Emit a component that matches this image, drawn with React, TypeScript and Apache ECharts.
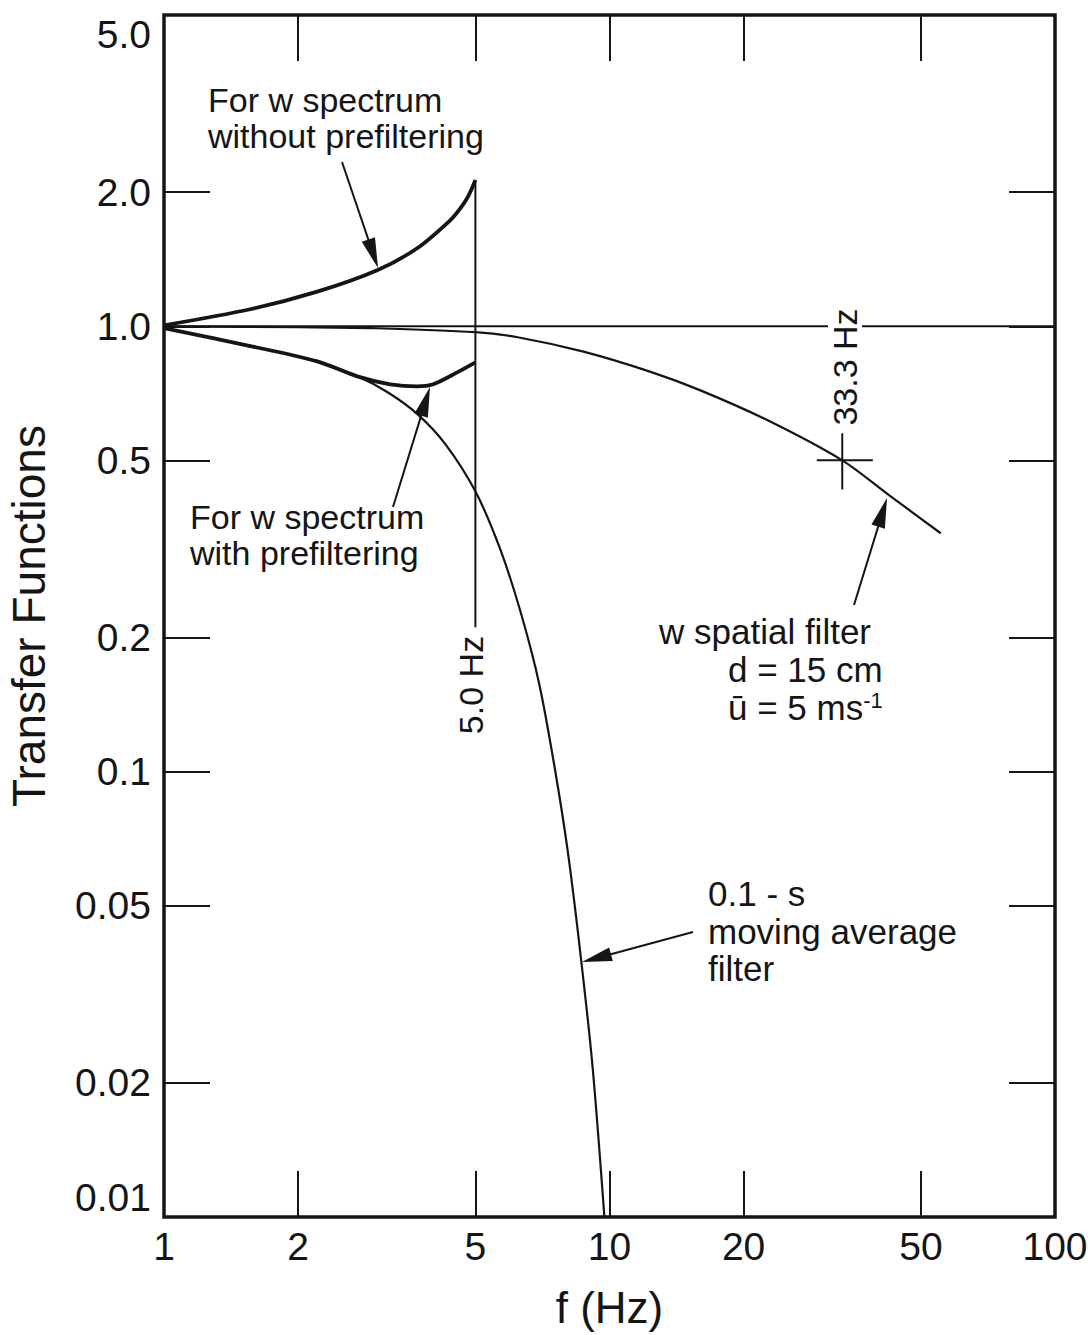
import React, { useEffect, useRef } from "react";
import * as echarts from "echarts";

// ---- axis ticks ----
const X_TICKS = [1, 2, 5, 10, 20, 50, 100];
const X_TICK_LABELS = ["1", "2", "5", "10", "20", "50", "100"];
const Y_TICKS = [0.01, 0.02, 0.05, 0.1, 0.2, 0.5, 1, 2, 5];
const Y_TICK_LABELS = ["0.01", "0.02", "0.05", "0.1", "0.2", "0.5", "1.0", "2.0", "5.0"];
const X_INNER_TICKS = [2, 5, 10, 20, 50];
const Y_INNER_TICKS = [0.02, 0.05, 0.1, 0.2, 0.5, 1, 2];

// ---- series ----
const UNITY_F = [1, 100];
const UNITY_T = [1, 1];

const SPATIAL_F = [1, 2, 3, 5, 6.22, 8.74, 12.37, 16.0, 22.65, 33.3, 42.1, 55.4];
const SPATIAL_T = [1.0, 0.995, 0.99, 0.97, 0.945, 0.877, 0.79, 0.718, 0.615, 0.5, 0.42, 0.343];

const MOVAVG_F = [1, 1.561, 2.208, 2.715, 3.17, 3.7, 4.28, 5, 5.69, 6.34, 6.96, 7.52, 8.05, 8.61, 9.16, 9.74];
const MOVAVG_T = [0.99, 0.904, 0.834, 0.772, 0.712, 0.636, 0.544, 0.426, 0.315, 0.2253, 0.1568, 0.1031, 0.0668, 0.0388, 0.0218, 0.01];

const WITHOUT_F = [1, 1.561, 2.208, 3.01, 3.7, 4.39, 4.63, 4.82, 5];
const WITHOUT_T = [1.005, 1.092, 1.196, 1.336, 1.497, 1.73, 1.842, 1.96, 2.13];

const WITH_F = [1, 1.561, 2.208, 2.715, 3.22, 3.7, 4.02, 4.55, 5];
const WITH_T = [0.99, 0.903, 0.834, 0.772, 0.741, 0.733, 0.741, 0.788, 0.83];

const CUTOFF_F = [5, 5];
const CUTOFF_T = [2.13, 0.211];

const CROSS_H_F = [29.2, 39];
const CROSS_H_T = [0.5, 0.5];
const CROSS_V_F = [33.3, 33.3];
const CROSS_V_T = [0.575, 0.43];

const INK = "#151515";
const FONT = "'Liberation Sans', Arial, Helvetica, sans-serif";

const pairs = (f: number[], t: number[]) => f.map((v, i) => [v, t[i]]);

const labelFor = (ticks: number[], labels: string[]) => (v: number) => {
  const i = ticks.findIndex((t) => Math.abs(Math.log10(t) - Math.log10(v)) < 1e-6);
  return i >= 0 ? labels[i] : "";
};

function arrow(x1: number, y1: number, x2: number, y2: number) {
  const dx = x2 - x1;
  const dy = y2 - y1;
  const len = Math.hypot(dx, dy);
  const ux = dx / len;
  const uy = dy / len;
  const hl = 30;
  const hw = 7;
  const bx = x2 - ux * hl;
  const by = y2 - uy * hl;
  return [
    {
      type: "line",
      z: 100,
      shape: { x1, y1, x2: bx + ux * 4, y2: by + uy * 4 },
      style: { stroke: INK, lineWidth: 2 },
    },
    {
      type: "polygon",
      z: 100,
      shape: {
        points: [
          [x2, y2],
          [bx - uy * hw, by + ux * hw],
          [bx + uy * hw, by - ux * hw],
        ],
      },
      style: { fill: INK },
    },
  ];
}

function txt(x: number, y: number, text: string, extra: any = {}) {
  return {
    type: "text",
    z: 100,
    x,
    y,
    rotation: extra.rotation || 0,
    style: {
      text,
      fontSize: 35,
      fontFamily: FONT,
      fill: INK,
      align: "left",
      verticalAlign: "middle",
      ...(extra.style || {}),
    },
  };
}

function lineSeries(name: string, f: number[], t: number[], width: number, smooth: any) {
  return {
    name,
    type: "line",
    data: pairs(f, t),
    symbol: "none",
    showSymbol: false,
    smooth,
    silent: true,
    clip: true,
    lineStyle: { color: INK, width },
    z: 3,
  };
}

export default function App() {
  const ref = useRef<HTMLDivElement>(null);

  useEffect(() => {
    if (!ref.current) return;
    const chart = echarts.init(ref.current, null, { renderer: "svg" });

    const common = {
      type: "log",
      logBase: 10,
      gridIndex: 0,
      axisLine: { show: false },
      splitLine: { show: false },
      minorTick: { show: false },
      minorSplitLine: { show: false },
    };
    const xBase = { ...common, min: 1, max: 100 };
    const yBase = { ...common, min: 0.01, max: 5 };
    const tick = (values: number[]) => ({
      show: true,
      inside: true,
      length: 46,
      lineStyle: { color: INK, width: 2 },
      customValues: values,
    });

    const small = { style: { fontSize: 34 } };

    const option: any = {
      animation: false,
      backgroundColor: "#ffffff",
      textStyle: { fontFamily: FONT, color: INK },
      grid: {
        left: 164,
        right: 33,
        top: 15,
        bottom: 118,
        show: true,
        borderColor: INK,
        borderWidth: 3.5,
        backgroundColor: "transparent",
        containLabel: false,
        outerBoundsMode: "none",
      },
      xAxis: [
        {
          ...xBase,
          position: "bottom",
          name: "f (Hz)",
          nameLocation: "middle",
          nameGap: 68,
          nameTextStyle: { fontSize: 44, fontFamily: FONT, color: INK },
          axisTick: tick(X_INNER_TICKS),
          axisLabel: {
            show: true,
            margin: 10,
            fontSize: 39,
            fontFamily: FONT,
            color: INK,
            customValues: X_TICKS,
            formatter: labelFor(X_TICKS, X_TICK_LABELS),
          },
        },
        {
          ...xBase,
          position: "top",
          axisTick: tick(X_INNER_TICKS),
          axisLabel: { show: false },
        },
      ],
      yAxis: [
        {
          ...yBase,
          position: "left",
          name: "Transfer Functions",
          nameLocation: "middle",
          nameGap: 112,
          nameTextStyle: { fontSize: 46, fontFamily: FONT, color: INK },
          axisTick: tick(Y_INNER_TICKS),
          axisLabel: {
            show: true,
            margin: 13,
            fontSize: 39,
            fontFamily: FONT,
            color: INK,
            customValues: Y_TICKS,
            formatter: labelFor(Y_TICKS, Y_TICK_LABELS),
            verticalAlignMinLabel: "bottom",
            verticalAlignMaxLabel: "top",
          },
        },
        {
          ...yBase,
          position: "right",
          axisTick: tick(Y_INNER_TICKS),
          axisLabel: { show: false },
        },
      ],
      series: [
        lineSeries("unity", UNITY_F, UNITY_T, 2, false),
        lineSeries("w spatial filter", SPATIAL_F, SPATIAL_T, 2.2, 0.3),
        lineSeries("0.1-s moving average filter", MOVAVG_F, MOVAVG_T, 2.2, 0.3),
        lineSeries("w spectrum without prefiltering", WITHOUT_F, WITHOUT_T, 3.8, 0.3),
        lineSeries("w spectrum with prefiltering", WITH_F, WITH_T, 3.8, 0.3),
        lineSeries("5.0 Hz", CUTOFF_F, CUTOFF_T, 2, false),
        lineSeries("33.3 Hz h", CROSS_H_F, CROSS_H_T, 2, false),
        lineSeries("33.3 Hz v", CROSS_V_F, CROSS_V_T, 2, false),
      ],
      graphic: [
        txt(208, 100, "For w spectrum", small),
        txt(208, 136, "without prefiltering", small),
        txt(190, 517, "For w spectrum", small),
        txt(190, 553, "with prefiltering", small),
        txt(659, 631, "w spatial filter"),
        txt(728, 669, "d = 15 cm"),
        txt(728, 707, "ū = 5 ms{sup|-1}", {
          style: {
            rich: {
              sup: { fontSize: 22, fontFamily: FONT, fill: INK, verticalAlign: "top" },
            },
          },
        }),
        txt(708, 893, "0.1 - s"),
        txt(708, 931, "moving average"),
        txt(708, 968, "filter"),
        txt(471, 685, "5.0 Hz", {
          rotation: Math.PI / 2,
          style: { fontSize: 34, align: "center", verticalAlign: "middle" },
        }),
        txt(845, 367, "33.3 Hz", {
          rotation: Math.PI / 2,
          style: {
            fontSize: 34,
            align: "center",
            verticalAlign: "middle",
            backgroundColor: "#ffffff",
            padding: [0, 2, 0, 2],
          },
        }),
        ...arrow(342, 162, 378, 268),
        ...arrow(393, 507, 430, 387),
        ...arrow(854, 605, 887, 498),
        ...arrow(693, 932, 582, 962),
      ],
    };

    chart.setOption(option);
    return () => chart.dispose();
  }, []);

  return (
    <div
      ref={ref}
      style={{ position: "absolute", left: 0, top: 0, width: 1088, height: 1335, background: "#fff" }}
    />
  );
}
